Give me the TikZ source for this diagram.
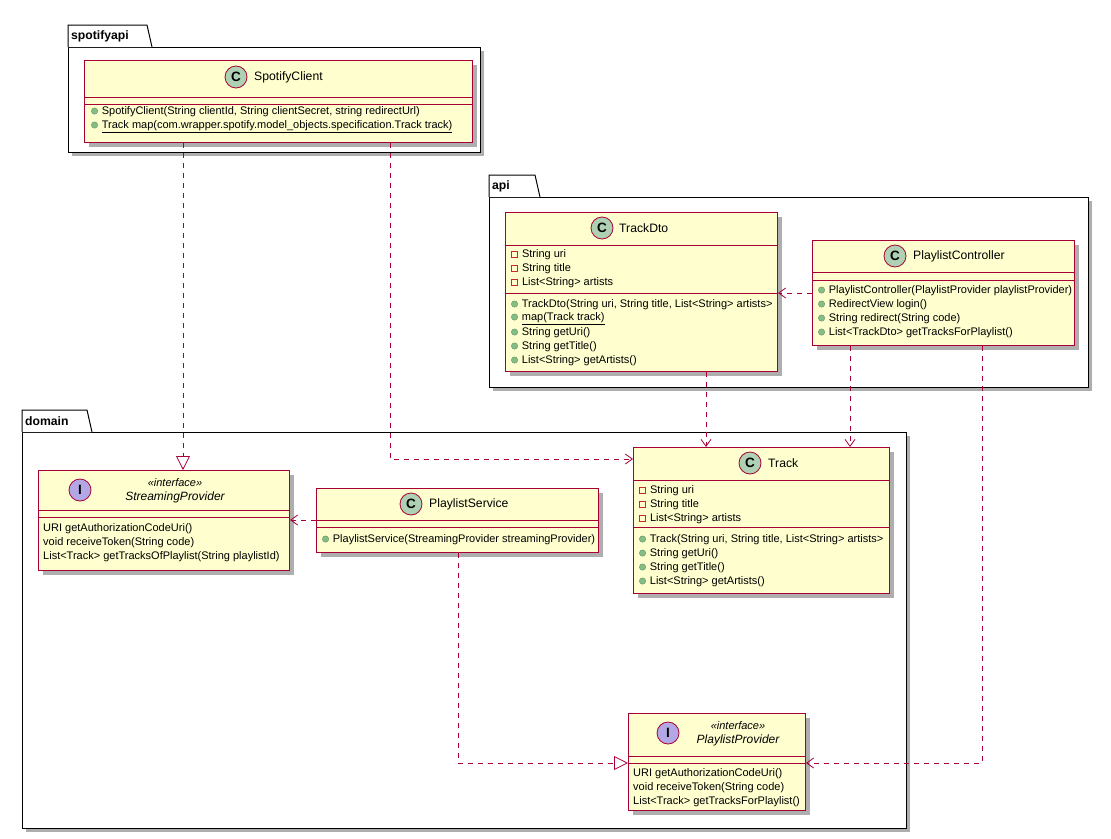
\documentclass[tikz,border=0pt]{standalone}
\usepackage{fontspec}
\setmainfont{Liberation Sans}
\usetikzlibrary{shadows,arrows.meta}
\definecolor{bd}{HTML}{A80036}
\definecolor{ye}{HTML}{FEFECE}
\definecolor{cc}{HTML}{ADD1B2}
\definecolor{ic}{HTML}{B4A7E5}
\definecolor{pg}{HTML}{84BE84}
\definecolor{pr}{HTML}{C82930}
\newcommand{\pubic}{\tikz[baseline=-3.8pt]\fill[pg,draw=pg!70!black,line width=0.3pt] (0,0) circle (3.2pt);\hspace{4pt}}
\newcommand{\privic}{\tikz[baseline=-3.8pt]\draw[pr,line width=0.8pt] (-3pt,-3pt) rectangle (3pt,3pt);\hspace{4pt}}
\tikzset{
 box/.style={draw=bd,fill=ye,line width=1pt,inner sep=0,anchor=north west,
   drop shadow={shadow xshift=4pt,shadow yshift=-4pt,fill=black!45,opacity=0.7}},
 pkg/.style={draw=black,fill=white,line width=1pt,
   drop shadow={shadow xshift=4pt,shadow yshift=-4pt,fill=black!45,opacity=0.7}},
 mem/.style={anchor=west,inner sep=0,font=\fontsize{11}{13}\selectfont},
 ttl/.style={inner sep=0,font=\fontsize{12.2}{14}\selectfont},
 sep/.style={draw=bd,line width=1pt},
 dep/.style={draw=bd,dashed,dash pattern=on 5pt off 5pt,line width=0.8pt,-{Straight Barb[length=7pt,width=10pt]}},
 real/.style={draw=bd,dashed,dash pattern=on 5pt off 5pt,line width=0.8pt,-{Triangle[open,length=14pt,width=14pt]}},
}
\newcommand{\spot}[4]{\filldraw[fill=#3,draw=bd,line width=0.8pt] (#1,#2) circle (11pt);
 \node[inner sep=0,font=\bfseries\fontsize{13.5}{14}\selectfont] at (#1,#2) {#4};}
\newcommand{\folder}[6]{% x1 y1 x2 y2 tabright label
 \path[pkg] (#1,#2+22) rectangle (#3,#4);
 \filldraw[fill=white,draw=black,line width=1pt] (#1,#2+22) -- (#1,#2) -- (#5,#2) -- (#5+5,#2+22);
 \node[anchor=west,inner sep=0,font=\bfseries\fontsize{12.2}{14}\selectfont] at (#1+3,#2+11) {#6};}
\begin{document}
\begin{tikzpicture}[x=1pt,y=-1pt]
\useasboundingbox[fill=white] (0,0) rectangle (1111,838);
% packages
\folder{68}{25}{480}{152}{147}{spotifyapi}
\folder{489}{175}{1088}{387}{535}{api}
\folder{22}{410}{906}{828}{87}{domain}

% SpotifyClient
\node[box,minimum width=388pt,minimum height=82pt] (sc) at (84,60) {};
\draw[sep] (84,97) -- (472,97); \draw[sep] (84,104) -- (472,104);
\spot{236}{77}{cc}{C}\node[ttl,anchor=west] at (254,77) {SpotifyClient};
\node[mem] at (91,112) {\pubic SpotifyClient(String clientId, String clientSecret, string redirectUrl)};
\node[mem] at (91,127) {\pubic \underline{Track map(com.wrapper.spotify.model\_objects.specification.Track track)}};

% TrackDto
\node[box,minimum width=272pt,minimum height=159pt] (td) at (505,212) {};
\draw[sep] (505,245) -- (777,245); \draw[sep] (505,293) -- (777,293);
\spot{602}{228}{cc}{C}\node[ttl,anchor=west] at (619,228) {TrackDto};
\node[mem] at (511,255) {\privic String uri};
\node[mem] at (511,269) {\privic String title};
\node[mem] at (511,283) {\privic List<String> artists};
\node[mem] at (511,305) {\pubic TrackDto(String uri, String title, List<String> artists>};
\node[mem] at (511,319) {\pubic \underline{map(Track track)}};
\node[mem] at (511,333) {\pubic String getUri()};
\node[mem] at (511,347) {\pubic String getTitle()};
\node[mem] at (511,361) {\pubic List<String> getArtists()};

% PlaylistController
\node[box,minimum width=262pt,minimum height=105pt] (pc) at (812,240) {};
\draw[sep] (812,272) -- (1074,272); \draw[sep] (812,280) -- (1074,280);
\spot{895}{256}{cc}{C}\node[ttl,anchor=west] at (913,256) {PlaylistController};
\node[mem] at (818,291) {\pubic PlaylistController(PlaylistProvider playlistProvider)};
\node[mem] at (818,305) {\pubic RedirectView login()};
\node[mem] at (818,319) {\pubic String redirect(String code)};
\node[mem] at (818,333) {\pubic List<TrackDto> getTracksForPlaylist()};

% StreamingProvider
\node[box,minimum width=251pt,minimum height=100pt] (sp) at (38,470) {};
\draw[sep] (38,510) -- (289,510); \draw[sep] (38,517) -- (289,517);
\spot{80}{490}{ic}{I}
\node[ttl,font=\itshape\fontsize{11}{13}\selectfont] at (175,483) {«interface»};
\node[ttl,font=\itshape\fontsize{12}{14}\selectfont] at (175,497) {StreamingProvider};
\node[mem] at (43,529) {URI getAuthorizationCodeUri()};
\node[mem] at (43,543) {void receiveToken(String code)};
\node[mem] at (43,557) {List<Track> getTracksOfPlaylist(String playlistId)};

% PlaylistService
\node[box,minimum width=282pt,minimum height=64pt] (ps) at (316,488) {};
\draw[sep] (316,520) -- (598,520); \draw[sep] (316,527) -- (598,527);
\spot{411}{504}{cc}{C}\node[ttl,anchor=west] at (429,504) {PlaylistService};
\node[mem] at (322,540) {\pubic PlaylistService(StreamingProvider streamingProvider)};

% Track
\node[box,minimum width=256pt,minimum height=146pt] (tr) at (633,447) {};
\draw[sep] (633,480) -- (889,480); \draw[sep] (633,527) -- (889,527);
\spot{750}{463}{cc}{C}\node[ttl,anchor=west] at (768,463) {Track};
\node[mem] at (639,491) {\privic String uri};
\node[mem] at (639,505) {\privic String title};
\node[mem] at (639,519) {\privic List<String> artists};
\node[mem] at (639,540) {\pubic Track(String uri, String title, List<String> artists>};
\node[mem] at (639,554) {\pubic String getUri()};
\node[mem] at (639,568) {\pubic String getTitle()};
\node[mem] at (639,582) {\pubic List<String> getArtists()};

% PlaylistProvider
\node[box,minimum width=177pt,minimum height=97pt] (pp) at (628,713) {};
\draw[sep] (628,756) -- (805,756); \draw[sep] (628,763) -- (805,763);
\spot{668}{733}{ic}{I}
\node[ttl,font=\itshape\fontsize{11}{13}\selectfont] at (738,726) {«interface»};
\node[ttl,font=\itshape\fontsize{12}{14}\selectfont] at (738,740) {PlaylistProvider};
\node[mem] at (633,774) {URI getAuthorizationCodeUri()};
\node[mem] at (633,788) {void receiveToken(String code)};
\node[mem] at (633,802) {List<Track> getTracksForPlaylist()};

% connectors
\coordinate (c1) at (390,459);
\coordinate (c2) at (982,763);
\coordinate (c3) at (458,763);
\draw[real] (sc.south west -| 183,0) -- (sp.north west -| 183,0);
\draw[dep] (sc.south west -| 390,0) -- (c1) -- (tr.west |- c1);
\draw[dep] (td.south west -| 706,0) -- (tr.north west -| 706,0);
\draw[dep] (pc.south west -| 850,0) -- (tr.north west -| 850,0);
\draw[dep] (pc.south west -| 982,0) -- (c2) -- (pp.east |- c2);
\draw[dep] (pc.west |- 0,293) -- (td.east |- 0,293);
\draw[dep] (ps.west |- 0,520) -- (sp.east |- 0,520);
\draw[real] (ps.south west -| 458,0) -- (c3) -- (pp.west |- c3);
\end{tikzpicture}
\end{document}
